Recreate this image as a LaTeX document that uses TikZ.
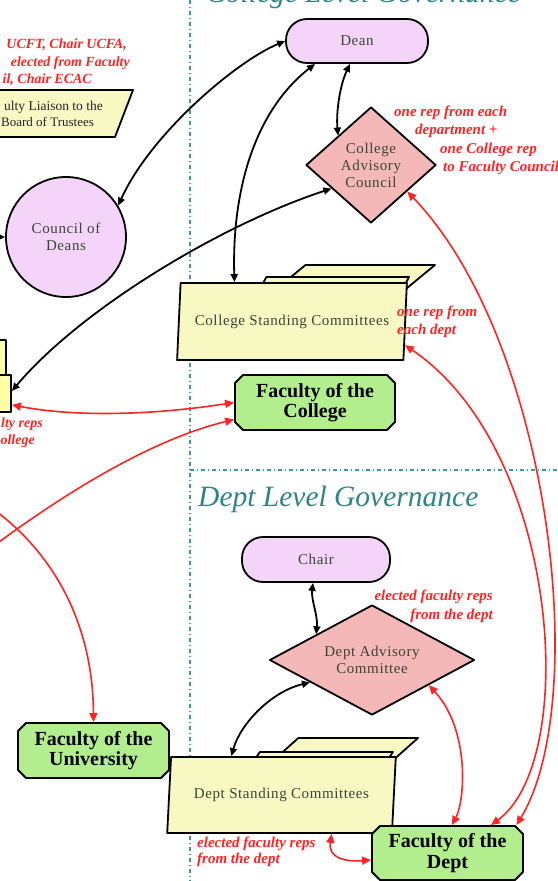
\documentclass[tikz,border=0pt]{standalone}
\usepackage{fontspec}
\setmainfont{Liberation Serif}
\newfontfamily\boxfont{Liberation Serif}[LetterSpace=4.0]
\usetikzlibrary{shapes.geometric,shapes.misc,arrows.meta,calc}
\definecolor{tealline}{HTML}{3A9A9A}
\definecolor{tealtext}{HTML}{2E8585}
\definecolor{lilac}{HTML}{F5D4FA}
\definecolor{rose}{HTML}{F5B8B8}
\definecolor{cream}{HTML}{F7F8C2}
\definecolor{lemon}{HTML}{FFFFA6}
\definecolor{leaf}{HTML}{B3EE8E}
\definecolor{redl}{HTML}{FF2424}
\definecolor{boxtxt}{HTML}{3A4438}
\begin{document}
\begin{tikzpicture}[x=1pt,y=-1pt,line join=round,
  boxtext/.style={font=\boxfont\fontsize{15}{17}\selectfont, text=boxtxt, align=center},
  stadium/.style={draw, line width=1.8pt, fill=lilac, rounded corners=21pt, inner sep=0pt, boxtext},
  roundel/.style={draw, circle, line width=1.8pt, fill=lilac, inner sep=0pt, boxtext},
  rhomb/.style={draw, diamond, line width=1.8pt, fill=rose, inner sep=0pt, boxtext},
  sheet/.style={draw, trapezium, trapezium stretches=true, line width=1.8pt, fill=cream, inner sep=2pt, boxtext},
  facbox/.style={draw, chamfered rectangle, chamfered rectangle xsep=4pt, chamfered rectangle ysep=4pt, line width=1.8pt, fill=leaf, inner sep=0pt, align=center, font=\fontsize{20}{20.5}\selectfont\bfseries, text=black},
  lemonbox/.style={draw, chamfered rectangle, chamfered rectangle xsep=3.5pt, chamfered rectangle ysep=3.5pt, line width=1.8pt, fill=lemon, inner sep=0pt},
  conn/.style={draw=black, line width=1.8pt, {Triangle[length=8pt,width=7pt]}-{Triangle[length=8pt,width=7pt]}},
  conn1/.style={draw=black, line width=1.8pt, -{Triangle[length=8pt,width=7pt]}},
  redc/.style={draw=redl, line width=1.6pt, {Triangle[length=9pt,width=8pt]}-{Triangle[length=9pt,width=8pt]}},
  redc1/.style={draw=redl, line width=1.6pt, -{Triangle[length=9pt,width=8pt]}},
  redtxt/.style={text=redl, font=\fontsize{15}{18}\selectfont\bfseries\itshape, inner sep=0pt},
  smallred/.style={text=redl, font=\fontsize{14}{17}\selectfont\bfseries\itshape, inner sep=0pt},
  divider/.style={draw=tealline, line width=1.3pt, dash pattern=on 4pt off 3pt on 1pt off 3pt},
  title/.style={text=tealtext, font=\fontsize{29.5}{30}\selectfont\itshape, inner sep=0pt}
]
\useasboundingbox (0,0) rectangle (557,881);
\fill[white] (0,0) rectangle (557,881);

% dividers
\draw[divider] (190,0) -- (190,881);
\draw[divider] (190,470) -- (557,470);

% titles
\node[title, anchor=base west] (t1) at (206,2) {College Level Governance};
\node[title, anchor=base west] (t2) at (198,506) {Dept Level Governance};

% left side fragments
\node[smallred, anchor=east] (r1) at (127,45) {UCFT, Chair UCFA,};
\node[smallred, anchor=east] (r2) at (130,63) {elected from Faculty};
\node[smallred, anchor=east] (r3) at (92,80) {il, Chair ECAC};
\draw[line width=1.8pt, fill=cream] (-40,90) -- (133,90) -- (115,137) -- (-40,137) -- cycle;
\node[anchor=east, inner sep=0pt, font=\fontsize{13.5}{15}\selectfont, text=black!85] (l1) at (103,107) {ulty Liaison to the};
\node[anchor=west, inner sep=0pt, font=\fontsize{13}{15}\selectfont, text=black!85] (l2) at (1,122) {Board of Trustees};

\node[lemonbox, minimum width=132pt, minimum height=44pt] (fcb) at (-60,362) {};
\node[lemonbox, minimum width=142pt, minimum height=37pt] (fc) at (-60,393.5) {};
\node[smallred, anchor=east] (r4) at (43,424) {lty reps};
\node[smallred, anchor=east] (r5) at (35,441) {ollege};

% college level nodes
\node[stadium, minimum width=142pt, minimum height=44pt] (dean) at (357,41) {Dean};
\node[roundel, minimum size=120pt] (cod) at (66,237) {Council of\\Deans};
\node[rhomb, aspect=1, minimum width=130pt, minimum height=116pt] (cac) at (371,165) {College\\Advisory\\Council};
\node[sheet, trapezium left angle=64, trapezium right angle=116, minimum width=172pt, minimum height=35pt] (csc3) at (349,282.5) {};
\node[sheet, trapezium left angle=80, trapezium right angle=100, minimum width=164pt, minimum height=40pt] (csc2) at (327,297) {};
\node[sheet, trapezium left angle=80, trapezium right angle=100, minimum width=230pt, minimum height=77pt] (csc) at (292,321.5) {College Standing Committees};
\node[facbox, minimum width=160pt, minimum height=55pt] (foc) at (315,402.5) {Faculty of the\\College};

\node[redtxt, anchor=west] (a1) at (394,113) {one rep from each};
\node[redtxt, anchor=west] (a2) at (415,131) {department +};
\node[redtxt, anchor=west] (a3) at (440,150) {one College rep};
\node[redtxt, anchor=west] (a4) at (443,168) {to Faculty Council};
\node[redtxt, anchor=west, align=left] (a5) at (397,322) {one rep from\\each dept};

% dept level nodes
\node[stadium, minimum width=148pt, minimum height=45pt] (chair) at (316,559.5) {Chair};
\node[rhomb, aspect=2, minimum width=205pt, minimum height=110pt] (dac) at (372,660) {Dept Advisory\\Committee};
\node[sheet, trapezium left angle=63, trapezium right angle=117, minimum width=160pt, minimum height=36pt] (dsc3) at (338,756) {};
\node[sheet, trapezium left angle=80, trapezium right angle=100, minimum width=153pt, minimum height=30pt] (dsc2) at (316.4,767) {};
\node[sheet, trapezium left angle=80, trapezium right angle=100, minimum width=229pt, minimum height=76pt] (dsc) at (281.5,795) {Dept Standing Committees};
\node[facbox, minimum width=151pt, minimum height=55pt] (fou) at (93.5,750.5) {Faculty of the\\University};
\node[facbox, minimum width=151pt, minimum height=54pt] (fod) at (447.5,853) {Faculty of the\\Dept};

\node[redtxt, anchor=east, align=right, font=\fontsize{15}{19}\selectfont\bfseries\itshape] (a6) at (493,606.5) {elected faculty reps\\from the dept};
\node[redtxt, anchor=west, align=left, font=\fontsize{15}{16}\selectfont\bfseries\itshape] (a7) at (197,852) {elected faculty reps\\from the dept};

% free ends
\coordinate (offA) at (-25,560);
\coordinate (offB) at (-20,500);
\coordinate (offC) at (-20,237);

% black connectors
\draw[conn] (dean.west) .. controls (235,62) and (150,135) .. (cod.31);
\draw[conn] ([xshift=-42pt]dean.south) .. controls (250,115) and (232,200) .. ($(csc.top left corner)!0.24!(csc.top right corner)$);
\draw[conn] ([xshift=-7pt]dean.south) .. controls (340,85) and (336,112) .. ($(cac.north)!0.5!(cac.west)$);
\draw[conn] ($(cac.west)!0.4!(cac.south)$) .. controls (220,225) and (80,310) .. (fc.2);
\draw[conn1] (offC) -- (cod.west);
\draw[conn] ([xshift=-3pt]chair.south) .. controls (311,600) and (318,615) .. ($(dac.north)!0.54!(dac.west)$);
\draw[conn] ($(dac.west)!0.4!(dac.south)$) .. controls (270,692) and (240,725) .. ($(dsc.top left corner)!0.27!(dsc.top right corner)$);

% red connectors
\draw[redc] ($(csc.bottom right corner)!0.2!(csc.top right corner)$) .. controls (560,450) and (580,760) .. ([xshift=43.5pt]fod.north);
\draw[redc] ($(cac.east)!0.45!(cac.south)$) .. controls (550,340) and (592,700) .. ([xshift=69pt]fod.north);
\draw[redc] ($(dac.east)!0.45!(dac.south)$) .. controls (470,730) and (465,800) .. ([xshift=4.5pt]fod.north);
\draw[redc] ($(dsc.bottom left corner)!0.73!(dsc.bottom right corner)$) .. controls (328,858) and (345,862) .. ([yshift=-7pt]fod.west);
\draw[redc] (fc.-9) .. controls (80,418) and (160,414) .. (foc.west);
\draw[redc1] (offA) .. controls (60,495) and (150,440) .. ([yshift=-17pt]foc.west);
\draw[redc1] (offB) .. controls (50,545) and (93,620) .. (fou.north);
\end{tikzpicture}
\end{document}
